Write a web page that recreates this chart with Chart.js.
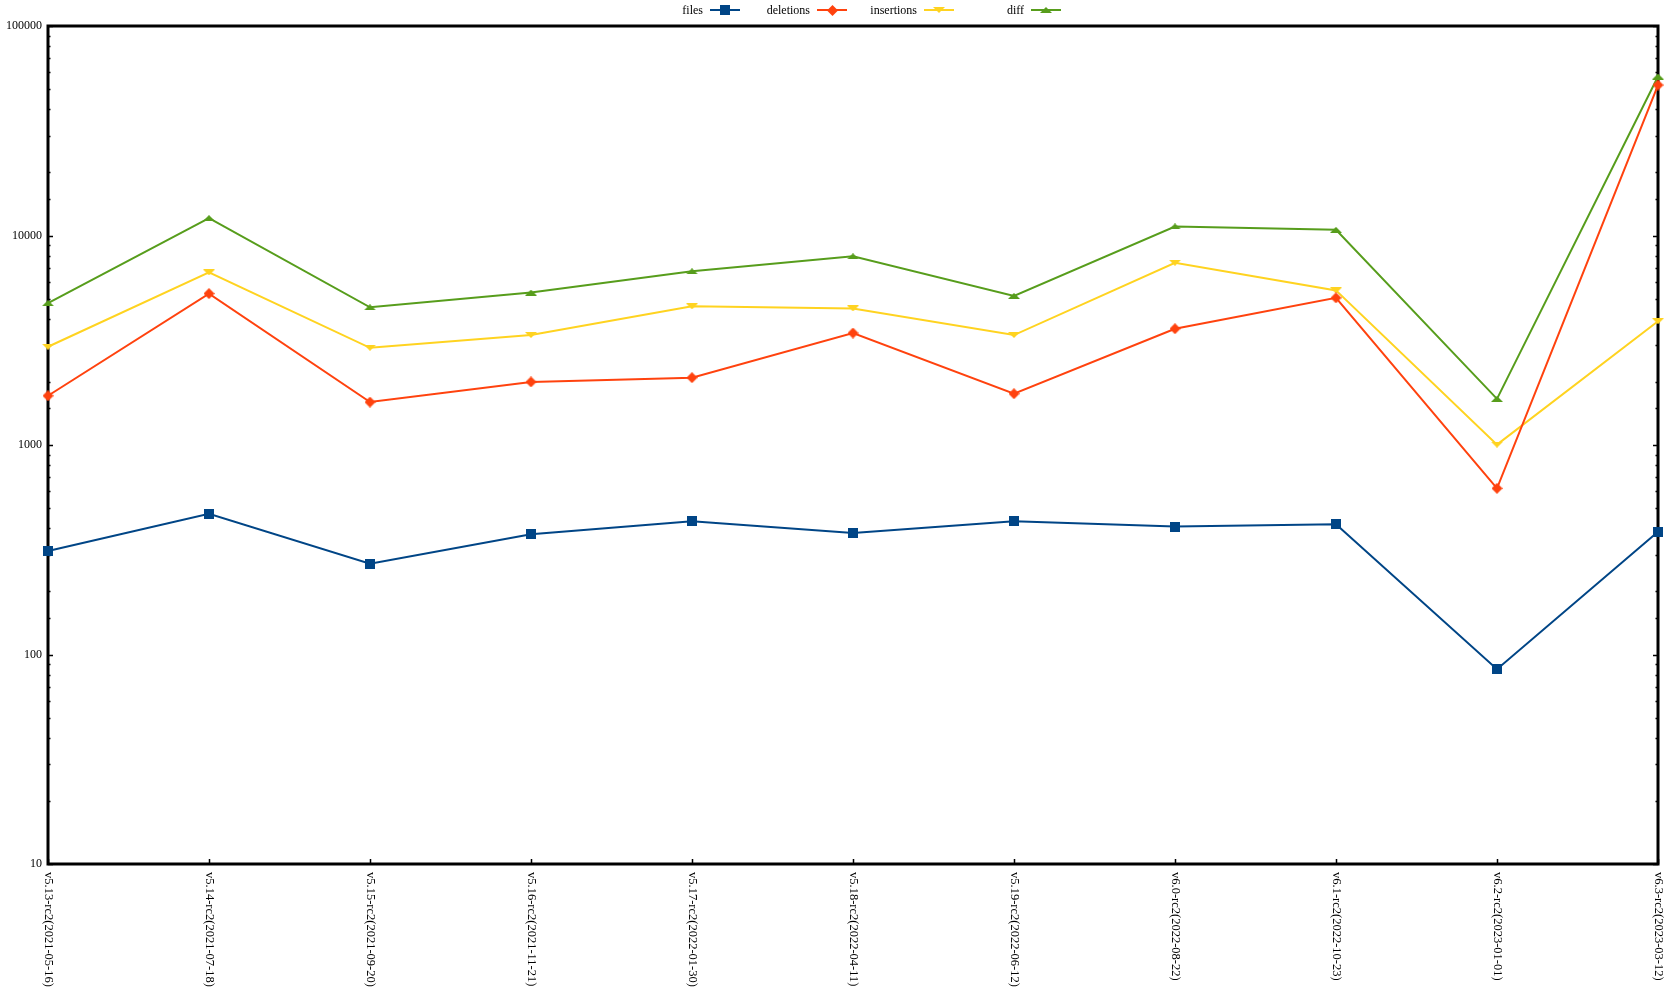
<!DOCTYPE html>
<html>
<head>
<meta charset="utf-8">
<title>files / deletions / insertions / diff</title>
<script src="https://cdn.jsdelivr.net/npm/chart.js@4.4.1/dist/chart.umd.min.js"></script>
<style>
    html, body { margin: 0; padding: 0; background: #fff; }
    #wrap { width: 1671px; height: 992px; position: relative; }
</style>
</head>
<body>
<div id="wrap"><canvas id="chart"></canvas></div>
<script>
// releases on the x axis
const releases = [
    'v5.13-rc2(2021-05-16)', 'v5.14-rc2(2021-07-18)', 'v5.15-rc2(2021-09-20)',
    'v5.16-rc2(2021-11-21)', 'v5.17-rc2(2022-01-30)', 'v5.18-rc2(2022-04-11)',
    'v5.19-rc2(2022-06-12)', 'v6.0-rc2(2022-08-22)', 'v6.1-rc2(2022-10-23)',
    'v6.2-rc2(2023-01-01)', 'v6.3-rc2(2023-03-12)'
];

// values (log scale)
const files      = [312, 470, 271, 375, 432, 380, 432, 408, 418, 85, 385];
const deletions  = [1718, 5280, 1603, 2000, 2096, 3424, 1757, 3589, 5040, 621, 52270];
const insertions = [2944, 6665, 2911, 3348, 4590, 4488, 3348, 7410, 5470, 1004, 3900];
const diff       = [4753, 12110, 4540, 5340, 6745, 7950, 5150, 11040, 10640, 1660, 57400];

const yMin = 10;
const yMax = 100000;

const FONT = '"Liberation Serif", "DejaVu Serif", serif';

// small canvases used as point styles
function makeMarker(shape, color, w, h) {
    const c = document.createElement('canvas');
    c.width = w;
    c.height = h;
    const g = c.getContext('2d');
    g.fillStyle = color;
    g.beginPath();
    if (shape === 'square') {
        g.rect(0, 0, w, h);
    } else if (shape === 'diamond') {
        g.moveTo(w / 2, 0); g.lineTo(w, h / 2); g.lineTo(w / 2, h); g.lineTo(0, h / 2);
    } else if (shape === 'up') {
        g.moveTo(w / 2, 0); g.lineTo(w, h); g.lineTo(0, h);
    } else {
        g.moveTo(0, 0); g.lineTo(w, 0); g.lineTo(w / 2, h);
    }
    g.closePath();
    g.fill();
    return c;
}

const series = [
    { label: 'files', data: files, color: '#004586', marker: makeMarker('square', '#004586', 10, 10) },
    { label: 'deletions', data: deletions, color: '#ff420e', marker: makeMarker('diamond', '#ff420e', 11, 11) },
    { label: 'insertions', data: insertions, color: '#ffd320', marker: makeMarker('down', '#ffd320', 12, 6) },
    { label: 'diff', data: diff, color: '#579d1c', marker: makeMarker('up', '#579d1c', 12, 6) }
];

function isDecade(v) {
    const e = Math.round(Math.log10(v));
    return Math.abs(v - Math.pow(10, e)) < 1e-6;
}

// frame, inward tick marks and rotated category labels
const framePlugin = {
    id: 'frame',
    beforeDatasetsDraw(chart) {
        const { ctx, chartArea: a, scales } = chart;
        ctx.save();
        ctx.strokeStyle = '#000';
        ctx.lineWidth = 1.5;
        ctx.beginPath();
        scales.y.ticks.forEach(t => {
            const y = Math.round(scales.y.getPixelForValue(t.value)) + 0.5;
            const len = isDecade(t.value) ? 5 : 2.5;
            ctx.moveTo(a.left, y); ctx.lineTo(a.left + len, y);
            ctx.moveTo(a.right, y); ctx.lineTo(a.right - len, y);
        });
        releases.forEach((r, i) => {
            const x = Math.round(scales.x.getPixelForValue(i)) + 0.5;
            ctx.moveTo(x, a.bottom); ctx.lineTo(x, a.bottom - 5);
        });
        ctx.stroke();
        ctx.lineWidth = 3;
        ctx.strokeRect(a.left, a.top, a.right - a.left, a.bottom - a.top);

        ctx.fillStyle = '#000';
        ctx.font = '12.5px ' + FONT;
        ctx.textAlign = 'left';
        ctx.textBaseline = 'middle';
        releases.forEach((r, i) => {
            const x = scales.x.getPixelForValue(i);
            ctx.save();
            ctx.translate(x, a.bottom + 8);
            ctx.rotate(Math.PI / 2);
            ctx.fillText(r, 0, 0);
            ctx.restore();
        });
        ctx.restore();
    },
    afterDraw(chart) {
        // legend: text, then a line sample with the marker
        const { ctx } = chart;
        const firstEnd = 703;
        const step = 107;
        const y = 10;
        ctx.save();
        ctx.font = '12px ' + FONT;
        ctx.fillStyle = '#000';
        ctx.textAlign = 'right';
        ctx.textBaseline = 'middle';
        series.forEach((s, i) => {
            const end = firstEnd + i * step;
            ctx.fillText(s.label, end, y + 1);
            ctx.strokeStyle = s.color;
            ctx.lineWidth = 2;
            ctx.beginPath();
            ctx.moveTo(end + 7, y);
            ctx.lineTo(end + 37, y);
            ctx.stroke();
            const m = s.marker;
            ctx.drawImage(m, Math.round(end + 22 - m.width / 2), Math.round(y - m.height / 2));
        });
        ctx.restore();
    }
};

const ctx = document.getElementById('chart').getContext('2d');
new Chart(ctx, {
    type: 'line',
    data: {
        labels: releases,
        datasets: series.map(s => ({
            label: s.label,
            data: s.data,
            borderColor: s.color,
            backgroundColor: s.color,
            borderWidth: 2,
            tension: 0,
            pointStyle: s.marker,
            pointRadius: 6,
            pointHoverRadius: 6,
            clip: false
        }))
    },
    options: {
        responsive: true,
        maintainAspectRatio: false,
        animation: false,
        layout: {
            padding: { left: 0, top: 26, right: 13, bottom: 128 }
        },
        plugins: {
            legend: { display: false },
            tooltip: { enabled: false }
        },
        scales: {
            x: {
                type: 'category',
                offset: false,
                grid: { display: false },
                border: { display: false },
                ticks: { display: false },
                afterFit(scale) { scale.height = 0; }
            },
            y: {
                type: 'logarithmic',
                min: yMin,
                max: yMax,
                grid: { display: false, drawTicks: false },
                border: { display: false },
                ticks: {
                    autoSkip: false,
                    padding: 6,
                    color: '#000',
                    font: { family: FONT, size: 12 },
                    callback: v => isDecade(v) ? String(Math.round(v)) : ''
                },
                afterFit(scale) { scale.width = 48; }
            }
        }
    },
    plugins: [framePlugin]
});
</script>
</body>
</html>
